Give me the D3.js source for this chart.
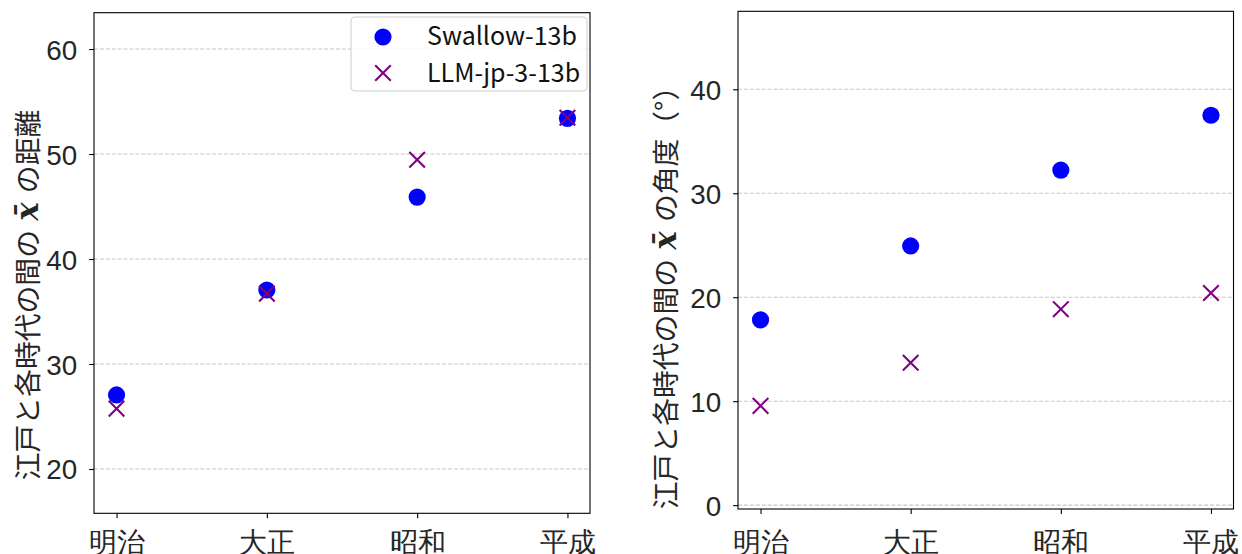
<!DOCTYPE html>
<html>
<head>
<meta charset="utf-8">
<script src="https://cdn.jsdelivr.net/npm/d3@7"></script>
<style>
  html, body { margin: 0; padding: 0; background: #fff; }
  svg { display: block; font-family: "Noto Sans CJK JP", "Noto Sans", sans-serif; }
</style>
</head>
<body>
<svg id="chart" width="1242" height="554"></svg>
<script>
// Eras compared against Edo
const categories = ["明治", "大正", "昭和", "平成"];

// Distance between Edo and each era (mean vector x̄)
const swallowDist = [27.05, 37.05, 45.9, 53.4];
const llmjpDist   = [25.75, 36.7, 49.45, 53.45];

// Angle (degrees) between Edo and each era
const swallowAngle = [17.82, 24.93, 32.23, 37.5];
const llmjpAngle   = [9.55, 13.7, 18.85, 20.4];

const distTicks  = [20, 30, 40, 50, 60];
const angleTicks = [0, 10, 20, 30, 40];

const seriesNames = ["Swallow-13b", "LLM-jp-3-13b"];
const BLUE = "#0000ff", PURPLE = "#800080";

const svg = d3.select("#chart");

function drawPanel(cfg) {
  const { x0, x1, y0, y1, yDomain, ticks, sA, sB, label, labelX, labelCY } = cfg;
  const x = d3.scaleLinear().domain([-0.15, categories.length - 1 + 0.15]).range([x0, x1]);
  const y = d3.scaleLinear().domain(yDomain).range([y1, y0]);
  const g = svg.append("g");

  // horizontal dashed grid
  g.append("g").selectAll("line").data(ticks).join("line")
    .attr("x1", x0).attr("x2", x1)
    .attr("y1", d => y(d)).attr("y2", d => y(d))
    .attr("stroke", "#b0b0b0").attr("stroke-opacity", 0.7)
    .attr("stroke-width", 1.1).attr("stroke-dasharray", "4.1,1.8");

  // y axis
  const yAxis = d3.axisLeft(y).tickValues(ticks).tickSize(4.9).tickPadding(12).tickFormat(d3.format("d"));
  const ya = g.append("g").attr("transform", `translate(${x0},0)`).call(yAxis);
  ya.select(".domain").remove();
  ya.selectAll(".tick line").attr("stroke", "#000").attr("stroke-width", 1.1);
  ya.selectAll(".tick text").attr("font-size", 27.8).attr("fill", "#262626")
    .attr("dy", null).attr("y", 10);

  // x axis
  const xAxis = d3.axisBottom(x).tickValues(d3.range(categories.length)).tickSize(4.9)
    .tickFormat(i => categories[i]);
  const xa = g.append("g").attr("transform", `translate(0,${y1})`).call(xAxis);
  xa.select(".domain").remove();
  xa.selectAll(".tick line").attr("stroke", "#000").attr("stroke-width", 1.1);
  xa.selectAll(".tick text").attr("font-size", 27.8).attr("fill", "#262626")
    .attr("dy", null).attr("y", 552 - y1);

  // frame
  g.append("rect").attr("x", x0).attr("y", y0).attr("width", x1 - x0).attr("height", y1 - y0)
    .attr("fill", "none").attr("stroke", "#000").attr("stroke-width", 1.1);

  // Swallow circles
  g.append("g").selectAll("circle").data(sA).join("circle")
    .attr("cx", (d, i) => x(i)).attr("cy", d => y(d)).attr("r", 8.6).attr("fill", BLUE);

  // LLM-jp crosses
  const h = 7.8;
  g.append("g").selectAll("path").data(sB).join("path")
    .attr("d", (d, i) => {
      const cx = x(i), cy = y(d);
      return `M${cx - h},${cy - h}L${cx + h},${cy + h}M${cx - h},${cy + h}L${cx + h},${cy - h}`;
    })
    .attr("stroke", PURPLE).attr("stroke-width", 2.1).attr("fill", "none");

  // y label (rotated)
  const t = g.append("text")
    .attr("transform", `translate(${labelX},${labelCY}) rotate(-90)`)
    .attr("text-anchor", "middle").attr("font-size", 27.8).attr("fill", "#262626");
  t.append("tspan").text(label[0]);
  t.append("tspan").attr("dx", 3).attr("font-family", "DejaVu Serif").attr("font-style", "italic")
    .attr("font-weight", "bold").attr("font-size", 31).text("x\u0304");
  t.append("tspan").attr("dx", 3).text(label[1]);

  return { x, y, g };
}

drawPanel({
  x0: 94, x1: 590, y0: 12.7, y1: 513.3, yDomain: [15.78, 63.46], ticks: distTicks,
  sA: swallowDist, sB: llmjpDist,
  label: ["江戸と各時代の間の ", " の距離"], labelX: 38, labelCY: 295
});

drawPanel({
  x0: 738, x1: 1233.5, y0: 11.3, y1: 509, yDomain: [-0.37, 47.5], ticks: angleTicks,
  sA: swallowAngle, sB: llmjpAngle,
  label: ["江戸と各時代の間の ", " の角度（°）"], labelX: 676, labelCY: 291
});

// legend
const lg = svg.append("g");
lg.append("rect").attr("x", 351).attr("y", 17).attr("width", 236).attr("height", 74)
  .attr("rx", 4).attr("fill", "#fff").attr("fill-opacity", 0.8)
  .attr("stroke", "#d0d0d0").attr("stroke-width", 1.1);
const rows = [{ name: seriesNames[0], cy: 37, base: 45 }, { name: seriesNames[1], cy: 73, base: 81.5 }];
lg.append("circle").attr("cx", 383).attr("cy", rows[0].cy).attr("r", 8.6).attr("fill", BLUE);
const hh = 7.8;
lg.append("path")
  .attr("d", `M${383 - hh},${rows[1].cy - hh}L${383 + hh},${rows[1].cy + hh}M${383 - hh},${rows[1].cy + hh}L${383 + hh},${rows[1].cy - hh}`)
  .attr("stroke", PURPLE).attr("stroke-width", 2.1);
lg.selectAll("text.lt").data(rows).join("text").attr("class", "lt")
  .attr("x", 427).attr("y", d => d.base).attr("font-size", 25).attr("fill", "#111")
  .text(d => d.name);
</script>
</body>
</html>
